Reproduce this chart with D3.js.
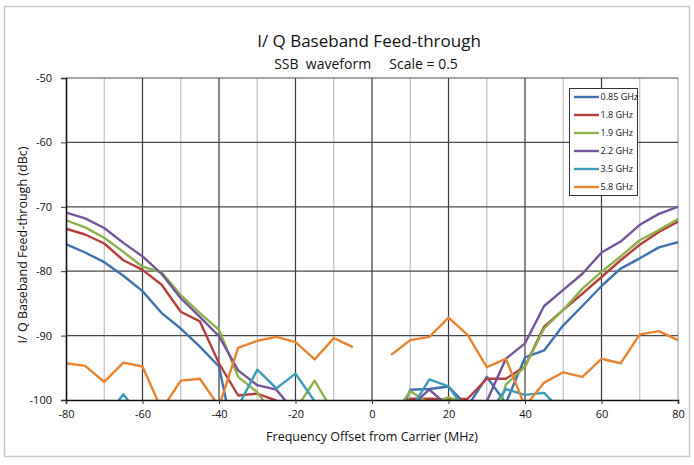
<!DOCTYPE html>
<html><head><meta charset="utf-8">
<script src="https://cdn.jsdelivr.net/npm/d3@7"></script>
<style>
body{margin:0;background:#fff;}
svg text{font-family:"Liberation Sans Narrow","Open Sans","Noto Sans",sans-serif;fill:#111;}
</style></head>
<body><svg id="c" width="694" height="465"></svg>
<script>
const freqs = [-80,-75,-70,-65,-60,-55,-50,-45,-40,-35,-30,-25,-20,-15,-10,-5,0,5,10,15,20,25,30,35,40,45,50,55,60,65,70,75,80];
const s085 = [-75.8,-77.1,-78.6,-80.7,-83.1,-86.5,-88.9,-91.7,-94.8,-109,null,null,null,null,null,null,null,-106,-98.4,-98.3,-97.9,-101,-96.4,-100.5,-93.4,-92.3,-88.4,-85.4,-82.3,-79.6,-78.0,-76.3,-75.5];
const s18 = [-73.4,-74.3,-75.7,-78.3,-79.8,-82.1,-86.3,-87.8,-94.3,-99.3,-99.0,-100.1,-103,null,null,null,null,-102,-99.8,-99.8,-99.9,-99.8,-96.7,-96.7,-94.8,-88.6,-86.0,-83.5,-80.9,-78.3,-75.9,-73.9,-72.3];
const s19 = [-72.1,-73.2,-74.8,-77.0,-79.3,-80.2,-83.7,-86.5,-89.1,-96.4,-98.8,-103,-101.5,-97.0,-102,null,null,-103,-98.6,-100.6,-99.6,-100.5,-108,-97.6,-94.8,-88.9,-86.0,-82.7,-80.1,-77.7,-75.2,-73.6,-71.9];
const s22 = [-70.9,-71.8,-73.3,-75.6,-77.7,-80.4,-84.2,-87.1,-90.1,-95.4,-97.7,-98.4,-102,null,null,null,null,null,-101,-98.4,-101,-100.2,-100.2,-93.6,-91.2,-85.4,-82.9,-80.4,-77.1,-75.4,-72.8,-71.1,-70.0];
const s35 = [null,null,-103,-99.1,-103,null,null,null,null,-101,-95.3,-98.2,-95.9,-100.2,-104,null,null,null,-101.6,-96.8,-97.9,-102,-102.5,-98.3,-99.2,-98.9,-102,null,null,null,null,null,null];
const s58 = [-94.3,-94.7,-97.2,-94.2,-94.8,-101.5,-97.0,-96.7,-101,-91.9,-90.8,-90.2,-91.0,-93.7,-90.4,-91.8,null,-93.0,-90.7,-90.2,-87.2,-89.9,-94.9,-93.6,-101,-97.3,-95.7,-96.4,-93.6,-94.3,-89.8,-89.3,-90.7];
const seriesNames = ["0.85 GHz","1.8 GHz","1.9 GHz","2.2 GHz","3.5 GHz","5.8 GHz"];
const seriesColors = ["#3F72B0","#B3403C","#8DB14A","#71549A","#3A9CB8","#E8832F"];
const xTicks = [-80,-60,-40,-20,0,20,40,60,80];
const yTicks = [-50,-60,-70,-80,-90,-100];
const title = "I/ Q Baseband Feed-through";
const subtitle = "SSB  waveform     Scale = 0.5";
const xLabel = "Frequency Offset from Carrier (MHz)";
const yLabel = "I/ Q Baseband Feed-through (dBc)";

const seriesData = [s085,s18,s19,s22,s35,s58];
const svg = d3.select("#c");
const L=66,R=678,T=78,B=400;
const x = d3.scaleLinear().domain([-80,80]).range([L,R]);
const y = d3.scaleLinear().domain([-100,-50]).range([B,T]);

// outer border
svg.append("rect").attr("x",4.5).attr("y",6.5).attr("width",685).attr("height",450)
  .attr("fill","none").attr("stroke","#c8c8cc").attr("stroke-width",1.5);

// minor vertical grid
svg.append("g").selectAll("line").data(d3.range(-70,80,20)).join("line")
  .attr("x1",d=>x(d)).attr("x2",d=>x(d)).attr("y1",T).attr("y2",B)
  .attr("stroke","#c4c4c4").attr("stroke-width",1.3);
// major vertical grid
svg.append("g").selectAll("line").data(xTicks.filter(d=>d>-80)).join("line")
  .attr("x1",d=>x(d)).attr("x2",d=>x(d)).attr("y1",T).attr("y2",B)
  .attr("stroke",d=>d===80?"#a8a8a8":"#3a3a3a").attr("stroke-width",1.2);
// horizontal grid
svg.append("g").selectAll("line").data(yTicks.filter(d=>d>-100)).join("line")
  .attr("x1",L).attr("x2",R).attr("y1",d=>y(d)).attr("y2",d=>y(d))
  .attr("stroke","#4a4a4a").attr("stroke-width",1.2);

// clip
svg.append("clipPath").attr("id","clp").append("rect").attr("x",L).attr("y",T).attr("width",R-L).attr("height",B-T);

const line = d3.line().defined(d=>d[1]!==null).x(d=>x(d[0])).y(d=>y(d[1]));
const gl = svg.append("g").attr("clip-path","url(#clp)");
seriesData.forEach((s,i)=>{
  gl.append("path").datum(freqs.map((f,j)=>[f,s[j]]))
    .attr("d",line).attr("fill","none").attr("stroke",seriesColors[i])
    .attr("stroke-width",2.4).attr("stroke-linejoin","round");
});

// axes
const fmt = d=>String(d);
const xAxis = d3.axisBottom(x).tickValues(xTicks).tickFormat(fmt).tickSize(4).tickPadding(6);
const gx = svg.append("g").attr("transform",`translate(0,${B})`).call(xAxis);
gx.select(".domain").attr("stroke","#111").attr("stroke-width",1.6);
gx.selectAll(".tick line").attr("stroke","#333");
gx.selectAll("text").attr("font-size",11).attr("fill","#111");
const yAxis = d3.axisLeft(y).tickValues(yTicks).tickFormat(fmt).tickSize(5).tickPadding(9);
const gy = svg.append("g").attr("transform",`translate(${L},0)`).call(yAxis);
gy.select(".domain").attr("stroke","#111").attr("stroke-width",1.6);
gy.selectAll(".tick line").attr("stroke","#333");
gy.selectAll("text").attr("font-size",11).attr("fill","#111");
svg.selectAll(".tick text").style("font-family",'"Liberation Sans Narrow","Open Sans","Noto Sans",sans-serif');

// titles
svg.append("text").attr("x",369).attr("y",47).attr("text-anchor","middle").attr("font-size",17).text(title);
svg.append("text").attr("x",366).attr("y",69).attr("text-anchor","middle").attr("font-size",14).style("white-space","pre").attr("xml:space","preserve").text(subtitle);
svg.append("text").attr("x",372).attr("y",441).attr("text-anchor","middle").attr("font-size",12.5).text(xLabel);
svg.append("text").attr("transform","translate(27,245) rotate(-90)").attr("text-anchor","middle").attr("font-size",12.5).text(yLabel);

// legend
const lg = svg.append("g");
lg.append("rect").attr("x",569.5).attr("y",88.5).attr("width",68).attr("height",107)
  .attr("fill","#fff").attr("stroke","#333").attr("stroke-width",1);
seriesNames.forEach((n,i)=>{
  const yy = 97+i*18;
  lg.append("line").attr("x1",574).attr("x2",599).attr("y1",yy).attr("y2",yy)
    .attr("stroke",seriesColors[i]).attr("stroke-width",2.4);
  lg.append("text").attr("x",600.5).attr("y",yy+3.3).attr("font-size",9).text(n);
});
</script></body></html>
